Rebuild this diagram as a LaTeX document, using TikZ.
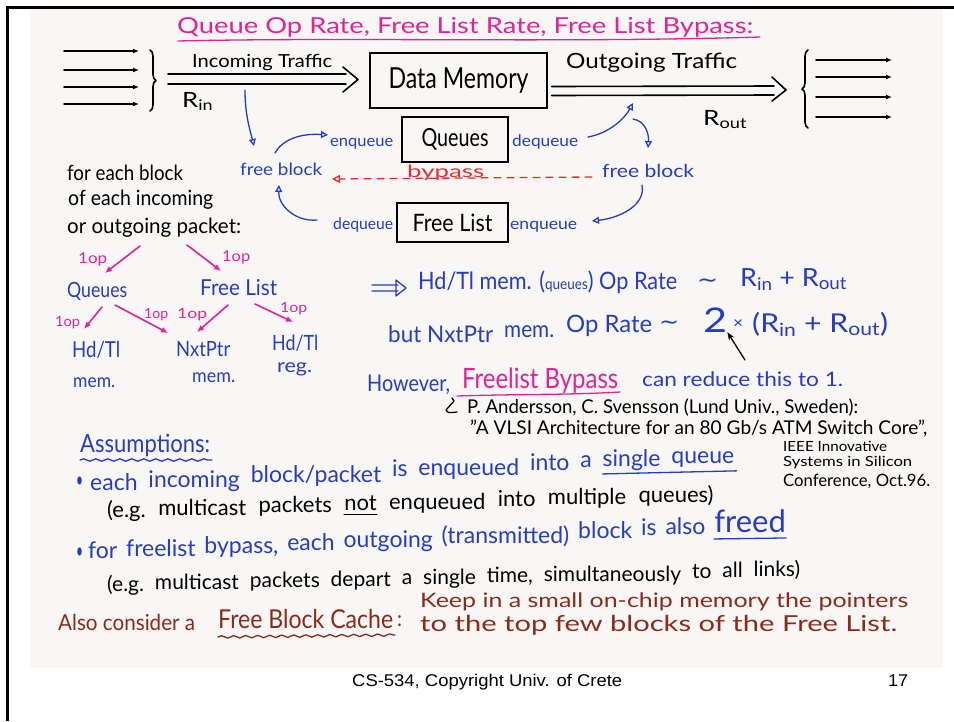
\documentclass[tikz,border=0pt]{standalone}
\usepackage{fontspec}
\setmainfont{Lato}
\newfontfamily\footfont{Liberation Sans}
\newfontfamily\symfont{DejaVu Sans}
\usetikzlibrary{arrows.meta,decorations.pathreplacing,decorations.pathmorphing,calc}

\definecolor{inkblue}{RGB}{38,60,200}
\definecolor{inkpink}{RGB}{226,34,150}
\definecolor{inkred}{RGB}{232,44,44}
\definecolor{inkbrown}{RGB}{140,42,26}
\definecolor{paper}{RGB}{249,247,245}

% set a piece of text at a given size (pt), stretched to a given width (pt)
\newcommand\fitw[3][20]{{\fontsize{#1pt}{#1pt}\selectfont\resizebox{#2pt}{\height}{#3}}}
\newcommand\sz[1]{\fontsize{#1pt}{#1pt}\selectfont}

% a handwritten line that climbs to the right, one node per word:
% #1 name, #2 node style, #3 start, #4 rise per unit advance, #5 word gap, #6 words
\newcommand\wordline[6]{%
  \foreach \w [count=\i, remember=\i as \j (initially 0)] in {#6}{%
    \ifnum\i=1
      \node[#2] (#1-1) at #3 {\w};
    \else
      \path let \p1=(#1-\j.base west), \p2=(#1-\j.base east) in
        node[#2] (#1-\i) at (\x2+#5, {\y2+#4*(\x2-\x1+#5)}) {\w};
    \fi
  }%
}

\begin{document}
\begin{tikzpicture}[x=1pt,y=-1pt,
  hand/.style={inner sep=0pt, anchor=base west},
  bl/.style={hand, text=inkblue},
  pk/.style={hand, text=inkpink},
  br/.style={hand, text=inkbrown},
  pen/.style={line width=1.6pt, line cap=round, line join=round},
  thin pen/.style={line width=1.3pt, line cap=round, line join=round},
  boxed/.style={draw, line width=1.4pt, inner sep=0pt},
  smallarrow/.style={pen, -{Latex[length=6pt,width=5pt]}},
  treearrow/.style={pen, inkpink, -{Latex[length=7pt,width=6pt]}},
  flowarrow/.style={thin pen, inkblue, -{Triangle[open,length=7pt,width=7pt]}},
  wavy/.style={thin pen, decorate, decoration={snake, amplitude=1.2pt, segment length=12pt}},
  blueword/.style={bl, font=\sz{23}},
  blackword/.style={hand, font=\sz{22}},
]
\useasboundingbox (0,0) rectangle (954,721);

% sheet of paper and slide frame
\fill[paper] (30,9) rectangle (943,668);
\draw[line width=2.6pt] (7.5,721) -- (7.5,7.5) -- (954,7.5);

% title
\node[pk] (title) at (177,33) {\fitw[22]{576}{Queue Op Rate, Free List Rate, Free List Bypass:}};
\draw[inkpink, thin pen] (178,41) .. controls (350,37) and (560,43) .. (760,37);

% incoming links
\foreach \y/\n in {51/1,70/2,87/3,104/4}{
  \coordinate (ia\n) at (64,\y);
  \coordinate (ib\n) at (139,\y);
  \draw[smallarrow] (ia\n) -- (ib\n);
}
\draw[pen, decorate, decoration={brace, amplitude=6pt}] (150,50) -- (150,111);

% data memory
\node[boxed, minimum width=177pt, minimum height=55pt] (dm) at (458.5,80.5) {\fitw[29]{140}{Data Memory}};

% incoming traffic (hollow double arrow)
\coordinate (inA) at (168,79);
\draw[pen] (inA) ++(0,-5) -- (346,74) (inA) ++(0,5) -- (346,84)
           (343,67) -- (358,79.5) -- (343,92);
\node[hand] (intr) at (192,67) {\fitw[18]{140}{Incoming Traffic}};
\node[hand] (rin) at (182,107) {\fitw[21]{31}{R\textsubscript{in}}};

% outgoing traffic
\draw[pen] (dm.east) ++(4,6) -- (774,86) (dm.east) ++(4,15) -- (774,95)
           (772,77) -- (786,90) -- (772,101);
\node[hand] (outr) at (566,68) {\fitw[21]{171}{Outgoing Traffic}};
\node[hand] (rout) at (703,125) {\fitw[21]{44}{R\textsubscript{out}}};

% outgoing links
\draw[pen, decorate, decoration={brace, amplitude=6pt}] (808,128) -- (808,50);
\foreach \y/\n in {60/1,77/2,97/3,117/4}{
  \coordinate (oa\n) at (816,\y);
  \coordinate (ob\n) at (892,\y);
  \draw[smallarrow] (oa\n) -- (ob\n);
}

% queues and free list
\node[boxed, minimum width=106pt, minimum height=45pt] (qbox) at (455,139.5) {\fitw[25]{67}{Queues}};
\node[boxed, minimum width=111pt, minimum height=39pt] (flbox) at (452.5,222.5) {\fitw[24]{80}{Free List}};

\node[bl] (enqA) at (330,146) {\fitw[16]{63}{enqueue}};
\node[bl] (deqA) at (512,146) {\fitw[16]{66}{dequeue}};
\node[bl] (fbL) at (240,175) {\fitw[17]{82}{free block}};
\node[bl] (fbR) at (602,177) {\fitw[18]{92}{free block}};
\node[bl] (deqB) at (333,229) {\fitw[16]{60}{dequeue}};
\node[bl] (enqB) at (510,229) {\fitw[16]{67}{enqueue}};
\node[hand, text=inkred] (byp) at (407,177) {\fitw[17]{77}{bypass}};

% bypass path
\coordinate (bpS) at (592,177);
\coordinate (bpE) at (332,179);
\draw[thin pen, inkred, dash pattern=on 7pt off 6pt,
      -{Triangle[open,length=8pt,width=8pt]}] (bpS) -- (bpE);

% block flow arrows
\coordinate (a1s) at (245,90);   \coordinate (a1e) at (254,146);
\coordinate (a2s) at (275,153);  \coordinate (a2e) at (328,135);
\coordinate (a3s) at (588,137);  \coordinate (a3e) at (633,103);
\coordinate (a4s) at (633,119);  \coordinate (a4e) at (648,148);
\coordinate (a5s) at (642,185);  \coordinate (a5e) at (592,221);
\coordinate (a6s) at (317,220);  \coordinate (a6e) at (279,185);
\draw[flowarrow] (a1s) .. controls (245,115) and (250,130) .. (a1e);
\draw[flowarrow] (a2s) .. controls (282,140) and (300,133) .. (a2e);
\draw[flowarrow] (a3s) .. controls (610,133) and (625,118) .. (a3e);
\draw[flowarrow] (a4s) .. controls (646,121) and (649,135) .. (a4e);
\draw[flowarrow] (a5s) .. controls (646,205) and (620,218) .. (a5e);
\draw[flowarrow] (a6s) .. controls (295,222) and (278,205) .. (a6e);

% per-block operations
\node[hand] (pb1) at (67,180) {\fitw[21]{116}{for each block}};
\node[hand] (pb2) at (68,205) {\fitw[21]{145}{of each incoming}};
\node[hand] (pb3) at (67,233) {\fitw[21]{174}{or outgoing packet:}};

\node[pk] (op1) at (78,263) {\fitw[15]{29}{1op}};
\node[pk] (op2) at (222,261) {\fitw[15]{28}{1op}};
\node[bl] (tq) at (67,297) {\fitw[21]{60}{Queues}};
\node[bl] (tf) at (200,295) {\fitw[22]{77}{Free List}};
\coordinate (t1s) at (140,246); \coordinate (t1e) at (105,273);
\coordinate (t2s) at (187,245); \coordinate (t2e) at (221,271);
\draw[treearrow] (t1s) -- (t1e);
\draw[treearrow] (t2s) -- (t2e);

\node[pk] (op3) at (55,326) {\fitw[14]{25}{1op}};
\node[pk] (op4) at (144,318) {\fitw[14]{24}{1op}};
\node[pk] (op5) at (177,318) {\fitw[14]{30}{1op}};
\node[pk] (op6) at (280,312) {\fitw[14]{27}{1op}};
\coordinate (t3s) at (102,307); \coordinate (t3e) at (84,329);
\coordinate (t4s) at (115,305); \coordinate (t4e) at (168,333);
\coordinate (t5s) at (228,305); \coordinate (t5e) at (197,332);
\coordinate (t6s) at (255,304); \coordinate (t6e) at (293,322);
\draw[treearrow] (t3s) -- (t3e);
\draw[treearrow] (t4s) -- (t4e);
\draw[treearrow] (t5s) -- (t5e);
\draw[treearrow] (t6s) -- (t6e);

\node[bl] (hm1) at (72,357) {\fitw[22]{48}{Hd/Tl}};
\node[bl] (hm2) at (73,387) {\fitw[19]{42}{mem.}};
\node[bl] (np1) at (176,356) {\fitw[21]{54}{NxtPtr}};
\node[bl] (np2) at (192,382) {\fitw[19]{43}{mem.}};
\node[bl] (hr1) at (272,350) {\fitw[21]{46}{Hd/Tl}};
\node[bl] (hr2) at (277,372) {\fitw[19]{35}{reg.}};

% operation rates
\draw[inkblue, thin pen] (372,285) -- (398,285) (372,291) -- (398,291)
                         (396,280) -- (406,288) -- (396,296) -- cycle;
\node[bl] (r1a) at (418,289) {\fitw[24]{259}{Hd/Tl mem. ({\sz{15}queues}) Op Rate}};
\node[bl] (r1s) at (697,287) {\fitw[22]{21}{\symfont ∼}};
\node[bl] (r1b) at (740,286) {\fitw[25]{107}{R\textsubscript{in} + R\textsubscript{out}}};

\node[bl] (r2a) at (388,342) {\fitw[23]{105}{but NxtPtr}};
\node[bl] (r2m) at (504,337) {\fitw[23]{50}{mem.}};
\node[bl] (r2r) at (566,332) {\fitw[24]{86}{Op Rate}};
\node[bl] (r2s) at (659,329) {\fitw[22]{20}{\symfont ∼}};
\node[bl] (two) at (703,332) {\fitw[34]{24}{2}};
\node[bl] (r2x) at (733,328) {\fitw[16]{10}{×}};
\node[bl] (r2b) at (752,332) {\fitw[26]{136}{(R\textsubscript{in} + R\textsubscript{out})}};
\coordinate (twoS) at (745,360);
\draw[thin pen, -{Stealth[length=8pt,width=6pt]}] (twoS) -- (two.south east);

\node[bl] (how) at (367,391) {\fitw[23]{83}{However,}};
\node[pk] (flb) at (462,388) {\fitw[28]{156}{Freelist Bypass}};
\draw[inkpink, thin pen] (457,396) .. controls (520,394) and (570,395) .. (620,392);
\node[bl] (red) at (642,386) {\fitw[20]{201}{can reduce this to 1.}};

% reference
\draw[thin pen] (452,398) -- (454,401) -- (446,410) .. controls (448,413) .. (457,412);
\node[hand] (ref1) at (467,413) {\fitw[19]{391}{P. Andersson, C. Svensson (Lund Univ., Sweden):}};
\node[hand] (ref2) at (470,434) {\fitw[19]{457}{"A VLSI Architecture for an 80 Gb/s ATM Switch Core",}};
\node[hand] (ref3) at (783,451) {\fitw[14]{104}{IEEE Innovative}};
\node[hand] (ref4) at (783,466) {\fitw[14]{129}{Systems in Silicon}};
\node[hand] (ref5) at (783,486) {\fitw[17]{147}{Conference, Oct.96.}};

% assumptions
\node[bl] (asm) at (80,452) {\fitw[25]{130}{Assumptions:}};
\draw[inkblue, wavy] (80,460) -- (212,460);

% first assumption
\node[bl] (bul1) at (76,487) {\fitw[22]{7}{•}};
\wordline{asa}{blueword}{(90,490)}{0.045}{10.5pt}{each,incoming,block/packet,is,enqueued,into,a,single,queue}
\draw[inkblue, thin pen] (asa-8.base west) ++(0,7) -- ($(asa-9.base east)+(2,7)$);
\wordline{asb}{blackword}{(107,517)}{0.028}{12pt}{{(e.g.},multicast,packets,not,enqueued,into,multiple,{queues)}}
\draw[thin pen] (asb-4.base west) ++(0,4) -- ($(asb-4.base east)+(0,4)$);

% second assumption
\node[bl] (bul2) at (76,558) {\fitw[22]{7}{•}};
\wordline{asc}{blueword}{(88,558)}{0.04}{8.5pt}{for,freelist,{bypass,},each,outgoing,{(transmitted)},block,is,also,{\sz{31}freed}}
\draw[inkblue, thin pen] (asc-10.base west) ++(0,6) -- ($(asc-10.base east)+(0,5)$);
\wordline{asd}{hand, font=\sz{21}}{(107,591)}{0.022}{10.5pt}{{(e.g.},multicast,packets,depart,a,single,{time,},simultaneously,to,all,{links)}}

% free block cache
\node[br] (also) at (58,630) {\fitw[22]{137}{Also consider a}};
\node[br] (fbc) at (218,628) {\fitw[26]{175}{Free Block Cache}};
\node[br] (colon) at (397,626) {\fitw[22]{5}{:}};
\draw[inkbrown, wavy] (218,637) -- (395,635);
\node[br] (keep1) at (420,607) {\fitw[20]{488}{Keep in a small on-chip memory the pointers}};
\node[br] (keep2) at (420,631) {\fitw[22]{477}{to the top few blocks of the Free List.}};

% footer
\node[hand] (foot) at (352,686) {\fitw[17]{270}{\footfont CS-534, Copyright Univ. of Crete}};
\node[hand] (page) at (888,686) {\fitw[17]{20}{\footfont 17}};
\end{tikzpicture}
\end{document}
